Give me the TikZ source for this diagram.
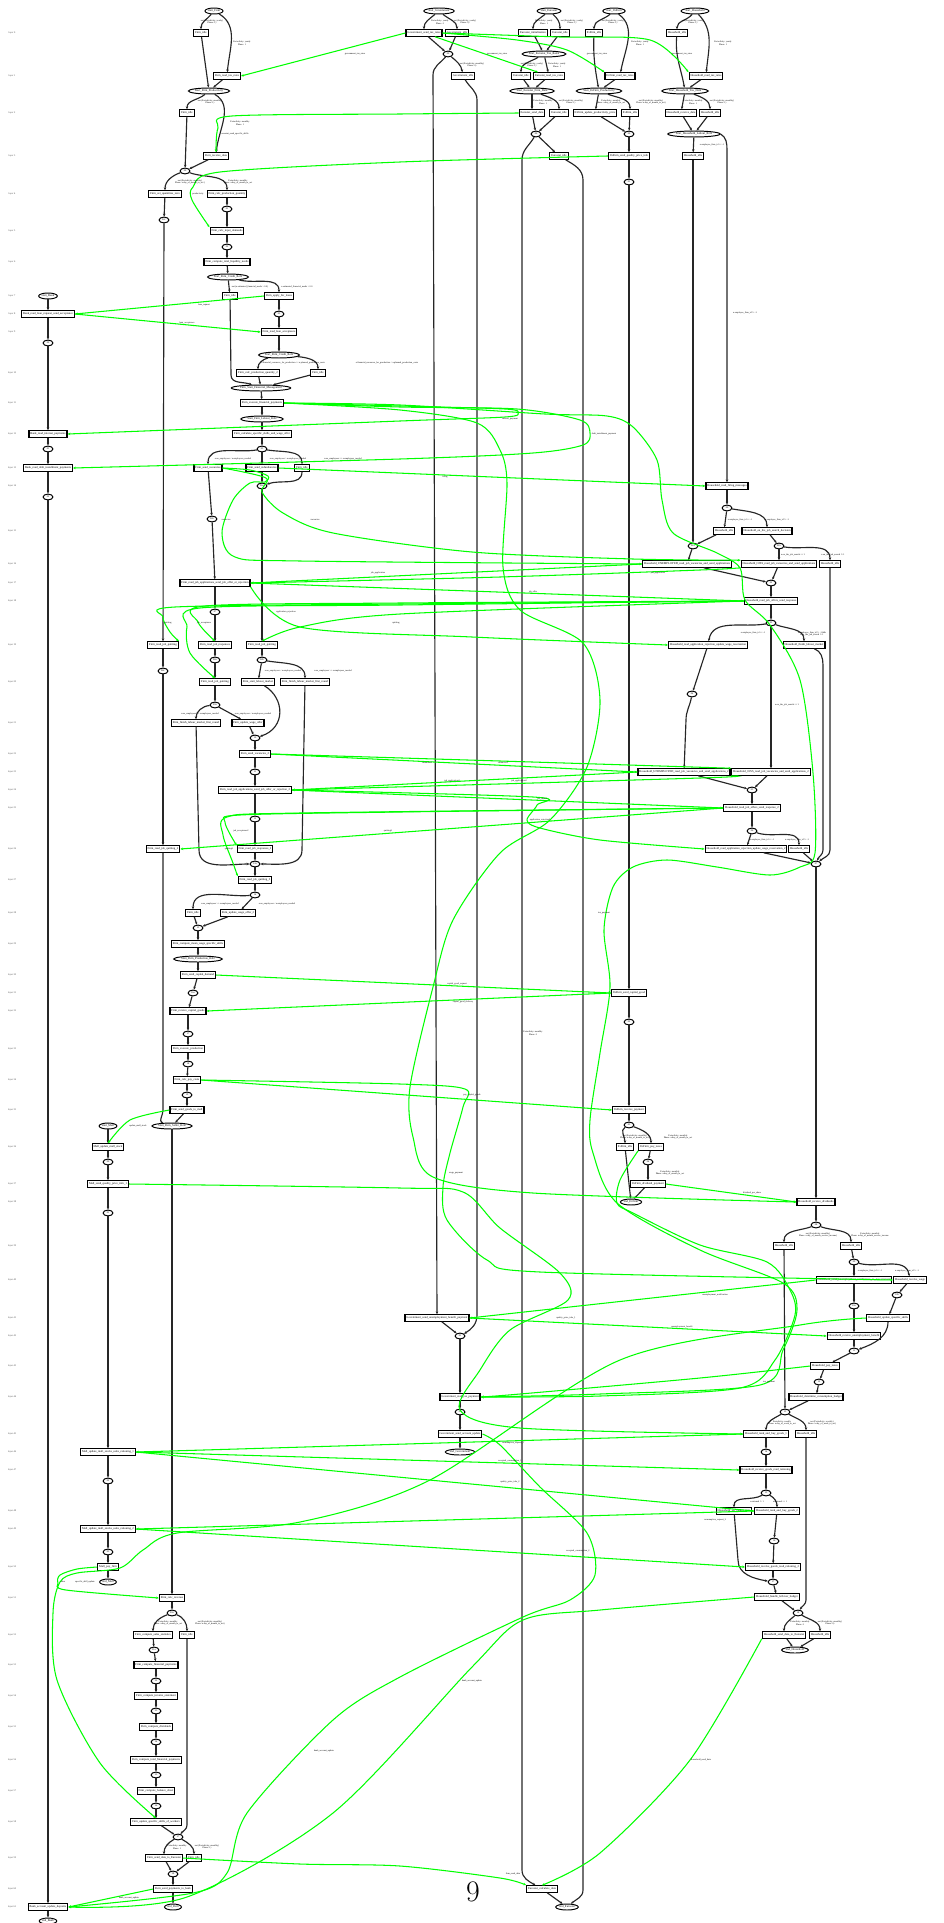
\documentclass[tikz,border=0pt]{standalone}
\usepackage{fontspec}
\usetikzlibrary{shapes.geometric,arrows.meta}
\newfontfamily\gvfont{Liberation Serif}
\definecolor{msggreen}{HTML}{00FF00}

\tikzset{
  fn/.style={draw, rectangle, line width=0.7pt, inner xsep=0.8pt, inner ysep=0.3pt, minimum height=3.6pt, font=\gvfont\fontsize{1.65}{2}\selectfont},
  st/.style={draw, ellipse, line width=0.55pt, inner xsep=0.2pt, inner ysep=0.1pt, minimum height=3.4pt, font=\gvfont\fontsize{1.65}{2}\selectfont},
  sm/.style={draw, ellipse, line width=0.55pt, inner sep=0pt, minimum width=5.6pt, minimum height=3.3pt, font=\gvfont\fontsize{1.4}{1.6}\selectfont},
  tr/.style={draw=black!85, line width=0.65pt, -{Stealth[length=1.6pt,width=1.4pt]}},
  ms/.style={draw=msggreen, line width=0.6pt, -{Stealth[length=1.6pt,width=1.4pt]}},
  el/.style={font=\gvfont\fontsize{1.3}{1.5}\selectfont, align=center, inner sep=0pt},
  lyr/.style={font=\gvfont\fontsize{1.4}{1.6}\selectfont, text=black!70, inner sep=0pt}
}

\begin{document}
\catcode`\_=12
\begin{tikzpicture}[x=0.02cm, y=-0.02cm]
\useasboundingbox (0,0) rectangle (943,1923);

% layers
\foreach \yy [count=\i from 0] in {33,76,113,156,194,231,262,296,314,332,373,403,434,468,486,531,564,583,601,645,682,723,754,772,790,808,849,880,913,944,975,993,1011,1049,1080,1110,1147,1184,1202,1246,1280,1318,1336,1366,1397,1434,1452,1470,1511,1529,1567,1598,1635,1665,1696,1727,1760,1791,1822,1858,1889,1907}
  \node[lyr] (L\i) at (12,\yy) {layer \i};

% ---------- Firm ----------
\node[st] (fS) at (214,11) {start_Firm};
\node[fn] (fI0) at (201,33) {Firm_idle};
\node[fn] (fTax) at (227,76) {Firm_read_tax_rates};
\node[st] (fP) at (209,91) {Start_Firm_Productivity};
\node[fn] (fI1) at (187,113) {Firm_idle};
\node[fn] (fData) at (216,156) {Firm_receive_data};
\node[sm] (f00) at (185,171) {00};
\node[fn] (fZero) at (165,194) {Firm_set_quantities_zero};
\node[fn] (fProd) at (227,194) {Firm_calc_production_quantity};
\node[sm] (f02c) at (164,220) {02c};
\node[sm] (f01) at (227,209) {01};
\node[fn] (fInp) at (227,231) {Firm_calc_input_demands};
\node[sm] (f02) at (227,247) {02};
\node[fn] (fLiq) at (227,262) {Firm_compute_total_liquidity_needs};
\node[st] (fCr) at (228,277) {Start_Firm_Credit_Role};
\node[fn] (fI2) at (230,296) {Firm_idle};
\node[fn] (fLoan) at (279,296) {Firm_apply_for_loans};
\node[sm] (f03) at (279,314) {03};
\node[fn] (fAcc) at (279,332) {Firm_read_loan_acceptance};
\node[st] (fCr2) at (279,355) {Start_Firm_Credit_Role};
\node[fn] (fProd2) at (258,373) {Firm_calc_production_quantity_2};
\node[fn] (fI3) at (318,373) {Firm_idle};
\node[st] (fFin) at (261,388) {Firm_Start_Financial_Management};
\node[fn] (fPay) at (262,403) {Firm_execute_financial_payments};
\node[st] (fLab) at (262,419) {Start_Firm_Labour_Role};
\node[fn] (fWage) at (262,434) {Firm_calculate_specific_skills_and_wage_offer};
\node[sm] (f05) at (262,449) {05};
\node[fn] (fVac) at (208,468) {Firm_send_vacancies};
\node[fn] (fRed) at (262,468) {Firm_send_redundancies};
\node[fn] (fI4) at (302,468) {Firm_idle};
\node[sm] (f06) at (262,486) {06a};
\node[sm] (f06b) at (212,519) {06b};
\node[fn] (fApp) at (215,583) {Firm_read_job_applications_send_job_offer_or_rejection};
\node[sm] (f07) at (215,612) {07};
\node[fn] (fQuitA) at (163,645) {Firm_read_job_quitting};
\node[fn] (fResp) at (215,645) {Firm_read_job_responses};
\node[fn] (fQuitB) at (262,645) {Firm_read_job_quitting};
\node[sm] (f08c) at (163,671) {08c};
\node[sm] (f08a) at (215,660) {08a};
\node[sm] (f08b) at (262,660) {08b};
\node[fn] (fQuitC) at (215,682) {Firm_read_job_quitting};
\node[fn] (fStartLM) at (258,682) {Firm_start_labour_market};
\node[fn] (fFinA) at (305,682) {Firm_finish_labour_market_first_round};
\node[sm] (f09) at (215,705) {09a};
\node[fn] (fFinB) at (196,723) {Firm_finish_labour_market_first_round};
\node[fn] (fUpd) at (248,723) {Firm_update_wage_offer};
\node[sm] (f10) at (255,738) {10};
\node[fn] (fVac2) at (255,754) {Firm_send_vacancies_2};
\node[sm] (f11) at (255,772) {11};
\node[fn] (fApp2) at (255,790) {Firm_read_job_applications_send_job_offer_or_rejection_2};
\node[sm] (f12) at (255,819) {12};
\node[fn] (fQuit2) at (163,849) {Firm_read_job_quitting_2};
\node[fn] (fResp2) at (255,849) {Firm_read_job_responses_2};
\node[sm] (f13) at (255,864) {13a};
\node[fn] (fQuit3) at (255,880) {Firm_read_job_quitting_3};
\node[sm] (f14) at (255,895) {14};
\node[fn] (fI5) at (193,913) {Firm_idle};
\node[fn] (fUpd2) at (238,913) {Firm_update_wage_offer_2};
\node[sm] (f15) at (198,928) {15};
\node[fn] (fMean) at (198,944) {Firm_compute_mean_wage_specific_skills};
\node[st] (fPr) at (198,959) {Start_Firm_Production_Role};
\node[fn] (fCap) at (198,975) {Firm_send_capital_demand};
\node[sm] (f16) at (193,993) {16a};
\node[fn] (fRecCap) at (188,1011) {Firm_receive_capital_goods};
\node[sm] (f17) at (188,1034) {17};
\node[fn] (fExe) at (188,1049) {Firm_execute_production};
\node[sm] (f18) at (188,1064) {18};
\node[fn] (fCost) at (187,1080) {Firm_calc_pay_costs};
\node[sm] (f19) at (187,1095) {19};
\node[fn] (fMall) at (187,1110) {Firm_send_goods_to_mall};
\node[st] (fSel) at (172,1126) {Start_Firm_Seller_Role};
\node[fn] (fRev) at (172,1598) {Firm_calc_revenue};
\node[sm] (f20) at (172,1613) {20a};
\node[fn] (fSal) at (153,1635) {Firm_compute_sales_statistics};
\node[fn] (fI6) at (187,1635) {Firm_idle};
\node[sm] (f21) at (154,1650) {21a};
\node[fn] (fFP) at (156,1665) {Firm_compute_financial_payments};
\node[sm] (f22) at (156,1681) {22};
\node[fn] (fInc) at (156,1696) {Firm_compute_income_statement};
\node[sm] (f23) at (156,1711) {23};
\node[fn] (fDiv) at (156,1727) {Firm_compute_dividends};
\node[sm] (f24) at (156,1742) {24};
\node[fn] (fTot) at (156,1760) {Firm_compute_total_financial_payments};
\node[sm] (f25) at (156,1775) {25};
\node[fn] (fBal) at (156,1791) {Firm_compute_balance_sheet};
\node[sm] (f26) at (156,1806) {26};
\node[fn] (fSkill) at (156,1822) {Firm_update_specific_skills_of_workers};
\node[sm] (f27) at (178,1837) {27};
\node[fn] (fEuro) at (164,1858) {Firm_send_data_to_Eurostat};
\node[fn] (fI7) at (194,1858) {Firm_idle};
\node[sm] (f28) at (173,1874) {28};
\node[fn] (fBank) at (173,1889) {Firm_send_payments_to_bank};
\node[st] (fE) at (173,1907) {end_Firm};

% ---------- Bank ----------
\node[st] (bS) at (48,296) {start_Bank};
\node[fn] (bReq) at (48,314) {Bank_read_loan_request_send_acceptance};
\node[sm] (b00) at (48,343) {00};
\node[fn] (bInt) at (48,434) {Bank_read_interest_payments};
\node[sm] (b01) at (48,449) {01};
\node[fn] (bDebt) at (48,468) {Bank_read_debt_installment_payments};
\node[sm] (b02) at (48,497) {02};
\node[fn] (bUpd) at (48,1907) {Bank_account_update_deposits};
\node[st] (bE) at (48,1921) {end_Bank};

% ---------- Mall ----------
\node[st] (mS) at (108,1126) {start_Mall};
\node[fn] (mStock) at (108,1147) {Mall_update_mall_stock};
\node[sm] (m00) at (108,1162) {00};
\node[fn] (mInfo) at (108,1184) {Mall_send_quality_price_info_1};
\node[sm] (m01) at (108,1213) {01};
\node[fn] (mRat1) at (108,1452) {Mall_update_mall_stocks_sales_rationing_1};
\node[sm] (m02) at (108,1481) {02};
\node[fn] (mRat2) at (108,1529) {Mall_update_mall_stocks_sales_rationing_2};
\node[sm] (m03) at (108,1552) {03};
\node[fn] (mPay) at (108,1567) {Mall_pay_firm};
\node[st] (mE) at (108,1582) {end_Mall};

% ---------- Government ----------
\node[st] (gS) at (439,11) {start_Government};
\node[fn] (gTax) at (424,33) {Government_send_tax_rates};
\node[fn] (gI0) at (457,33) {Government_idle};
\node[sm] (g00) at (448,54) {00};
\node[fn] (gI1) at (463,76) {Government_idle};
\node[fn] (gBen) at (437,1318) {Government_send_unemployment_benefit_payment};
\node[sm] (g01) at (460,1336) {01};
\node[fn] (gRead) at (460,1397) {Government_read_tax_payment};
\node[sm] (g02) at (460,1412) {02};
\node[fn] (gAcc) at (460,1434) {Government_send_account_update};
\node[st] (gE) at (460,1452) {end_Government};

% ---------- Eurostat ----------
\node[st] (eS) at (549,11) {start_Eurostat};
\node[fn] (eIni) at (533,33) {Eurostat_initialization};
\node[fn] (eI0) at (560,33) {Eurostat_idle};
\node[st] (eTx) at (544,54) {Start_Eurostat_Tax_Rates};
\node[fn] (eI1) at (521,76) {Eurostat_idle};
\node[fn] (eTax) at (549,76) {Eurostat_read_tax_rates};
\node[st] (eDt) at (532,91) {Start_Eurostat_Firm_Data};
\node[fn] (eSend) at (532,113) {Eurostat_send_data};
\node[fn] (eI2) at (559,113) {Eurostat_idle};
\node[sm] (e00) at (536,134) {00};
\node[fn] (eI3) at (559,156) {Eurostat_idle};
\node[fn] (eCalc) at (542,1889) {Eurostat_calculate_data};
\node[st] (eE) at (567,1907) {end_Eurostat};

% ---------- IGFirm ----------
\node[st] (iS) at (614,11) {start_IGFirm};
\node[fn] (iI0) at (594,33) {IGFirm_idle};
\node[fn] (iTax) at (620,76) {IGFirm_read_tax_rates};
\node[st] (iPr) at (599,91) {Start_IGFirm_Productivity};
\node[fn] (iUpd) at (595,113) {IGFirm_update_productivity_price};
\node[fn] (iI1) at (630,113) {IGFirm_idle};
\node[sm] (i00) at (629,134) {00};
\node[fn] (iInfo) at (629,156) {IGFirm_send_quality_price_info};
\node[sm] (i01) at (629,182) {01};
\node[fn] (iCap) at (629,993) {IGFirm_send_capital_good};
\node[sm] (i02) at (629,1022) {02};
\node[fn] (iRec) at (629,1110) {IGFirm_receive_payment};
\node[sm] (i03) at (629,1125) {03};
\node[fn] (iI2) at (625,1147) {IGFirm_idle};
\node[fn] (iTx) at (651,1147) {IGFirm_pay_taxes};
\node[sm] (i04) at (648,1162) {04};
\node[fn] (iDiv) at (648,1184) {IGFirm_dividend_payment};
\node[st] (iE) at (631,1202) {end_IGFirm};

% ---------- Household ----------
\node[st] (hS) at (695,11) {start_Household};
\node[fn] (hI0) at (677,33) {Household_idle};
\node[fn] (hTax) at (706,76) {Household_read_tax_rates};
\node[st] (hTx) at (685,91) {Start_Household_Tax_Data};
\node[fn] (hData) at (681,113) {Household_receive_data};
\node[fn] (hI1) at (710,113) {Household_idle};
\node[st] (hLab) at (694,134) {Start_Household_Labour_Role};
\node[fn] (hI2) at (693,156) {Household_idle};
\node[fn] (hFire) at (727,486) {Household_read_firing_messages};
\node[sm] (h00) at (727,508) {00};
\node[fn] (hI3) at (724,531) {Household_idle};
\node[fn] (hOJ) at (767,531) {Household_on_the_job_search_decision};
\node[sm] (h01a) at (693,546) {01a};
\node[sm] (h01b) at (779,546) {01b};
\node[fn] (hUnA) at (687,564) {Household_UNEMPLOYED_read_job_vacancies_and_send_applications};
\node[fn] (hOjA) at (779,564) {Household_OJSS_read_job_vacancies_and_send_applications};
\node[fn] (hI4) at (830,564) {Household_idle};
\node[sm] (h02) at (771,583) {02};
\node[fn] (hOff) at (771,601) {Household_read_job_offers_send_response};
\node[sm] (h03) at (771,623) {03};
\node[fn] (hRej) at (708,645) {Household_read_application_rejection_update_wage_reservation};
\node[fn] (hFin) at (804,645) {Household_finish_labour_market};
\node[sm] (h04) at (692,694) {04};
\node[fn] (hUnB) at (684,772) {Household_UNEMPLOYED_read_job_vacancies_and_send_applications_2};
\node[fn] (hOjB) at (771,772) {Household_OJSS_read_job_vacancies_and_send_applications_2};
\node[sm] (h05) at (752,790) {05};
\node[fn] (hOff2) at (752,808) {Household_read_job_offers_send_response_2};
\node[sm] (h06) at (752,831) {06};
\node[fn] (hRej2) at (746,849) {Household_read_application_rejection_update_wage_reservation_2};
\node[fn] (hI5) at (799,849) {Household_idle};
\node[sm] (h07) at (816,864) {07};
\node[fn] (hDiv) at (816,1202) {Household_receive_dividends};
\node[sm] (h08) at (816,1225) {08};
\node[fn] (hI6) at (784,1246) {Household_idle};
\node[fn] (hI7) at (851,1246) {Household_idle};
\node[sm] (h09) at (854,1262) {09};
\node[fn] (hNot) at (854,1280) {Household_send_unemployment_notification_to_Government};
\node[fn] (hWage) at (910,1280) {Household_receive_wage};
\node[sm] (h10a) at (854,1306) {10a};
\node[sm] (h10b) at (897,1295) {10b};
\node[fn] (hSkill) at (888,1318) {Household_update_specific_skills};
\node[fn] (hBen) at (854,1336) {Household_receive_unemployment_benefit};
\node[sm] (h11) at (854,1351) {11};
\node[fn] (hPay) at (825,1366) {Household_pay_taxes};
\node[sm] (h12) at (819,1382) {12};
\node[fn] (hBud) at (816,1397) {Household_determine_consumption_budget};
\node[sm] (h13) at (785,1412) {13};
\node[fn] (hBuy1) at (766,1434) {Household_rank_and_buy_goods_1};
\node[fn] (hI8) at (806,1434) {Household_idle};
\node[sm] (h14) at (766,1452) {14};
\node[fn] (hRec1) at (766,1470) {Household_receive_goods_read_rationing};
\node[sm] (h15) at (766,1493) {15};
\node[fn] (hZero) at (734,1511) {Household_set_values_zero};
\node[fn] (hBuy2) at (777,1511) {Household_rank_and_buy_goods_2};
\node[sm] (h16) at (774,1541) {16};
\node[fn] (hRec2) at (773,1567) {Household_receive_goods_read_rationing_2};
\node[sm] (h17) at (773,1582) {17};
\node[fn] (hLeft) at (777,1597) {Household_handle_leftover_budget};
\node[sm] (h18) at (798,1613) {18};
\node[fn] (hEuro) at (784,1635) {Household_send_data_to_Eurostat};
\node[fn] (hI9) at (820,1635) {Household_idle};
\node[st] (hE) at (795,1650) {end_Household};

\node[inner sep=0pt] (pg) at (473,1892) {\fontsize{17}{17}\selectfont 9};

% ---------- transitions ----------
\draw[tr] (fS) to[out=-130,in=90] (fI0);
\draw[tr] (fS) to[out=-30,in=85] (fTax);
\draw[tr] (fI0) -- (fP);
\draw[tr] (fTax) -- (fP);
\draw[tr] (fP) to[out=-140,in=90] (fI1);
\draw[tr] (fP) to[out=-30,in=85] (fData);
\draw[tr] (fI1) -- (f00);
\draw[tr] (fData) -- (f00);
\draw[tr] (f00) to[out=-160,in=90] (fZero);
\draw[tr] (f00) to[out=-20,in=90] (fProd);
\draw[tr] (fZero) -- (f02c);
\draw[tr] (f02c) -- (fQuitA);
\draw[tr] (fProd) -- (f01);
\draw[tr] (f01) -- (fInp);
\draw[tr] (fInp) -- (f02);
\draw[tr] (f02) -- (fLiq);
\draw[tr] (fLiq) -- (fCr);
\draw[tr] (fCr) -- (fI2);
\draw[tr] (fCr) to[out=-15,in=90] (fLoan);
\draw[tr] (fLoan) -- (f03);
\draw[tr] (f03) -- (fAcc);
\draw[tr] (fAcc) -- (fCr2);
\draw[tr] (fCr2) to[out=-165,in=90] (fProd2);
\draw[tr] (fCr2) to[out=-5,in=90] (fI3);
\draw[tr] (fI2) -- (231,375) to[out=-90,in=160] (fFin);
\draw[tr] (fProd2) -- (fFin);
\draw[tr] (fI3) -- (fFin);
\draw[tr] (fFin) -- (fPay);
\draw[tr] (fPay) -- (fLab);
\draw[tr] (fLab) -- (fWage);
\draw[tr] (fWage) -- (f05);
\draw[tr] (f05) to[out=-170,in=90] (fVac);
\draw[tr] (f05) -- (fRed);
\draw[tr] (f05) to[out=-10,in=90] (fI4);
\draw[tr] (fVac) -- (f06b);
\draw[tr] (f06b) -- (fApp);
\draw[tr] (fRed) -- (f06);
\draw[tr] (fI4) to[out=-90,in=20] (f06);
\draw[tr] (f06) -- (fQuitB);
\draw[tr] (fApp) -- (f07);
\draw[tr] (f07) -- (fResp);
\draw[tr] (fQuitA) -- (f08c);
\draw[tr] (fResp) -- (f08a);
\draw[tr] (fQuitB) -- (f08b);
\draw[tr] (f08a) -- (fQuitC);
\draw[tr] (f08b) -- (fStartLM);
\draw[tr] (f08b) to[out=-10,in=90] (fFinA);
\draw[tr] (f08c) -- (fQuit2);
\draw[tr] (fQuitC) -- (f09);
\draw[tr] (f09) to[out=-175,in=90] (fFinB);
\draw[tr] (f09) -- (fUpd);
\draw[tr] (fUpd) -- (f10);
\draw[tr] (fStartLM) .. controls (285,698) and (286,728) .. (f10);
\draw[tr] (f10) -- (fVac2);
\draw[tr] (fVac2) -- (f11);
\draw[tr] (f11) -- (fApp2);
\draw[tr] (fApp2) -- (f12);
\draw[tr] (f12) -- (fResp2);
\draw[tr] (fResp2) -- (f13);
\draw[tr] (fFinB) -- (199,850) to[out=-90,in=180] (f13);
\draw[tr] (fFinA) -- (302,850) to[out=-90,in=0] (f13);
\draw[tr] (f13) -- (fQuit3);
\draw[tr] (fQuit3) -- (f14);
\draw[tr] (f14) to[out=-175,in=90] (fI5);
\draw[tr] (f14) -- (fUpd2);
\draw[tr] (fI5) -- (f15);
\draw[tr] (fUpd2) -- (f15);
\draw[tr] (f15) -- (fMean);
\draw[tr] (fMean) -- (fPr);
\draw[tr] (fPr) -- (fCap);
\draw[tr] (fCap) -- (f16);
\draw[tr] (f16) -- (fRecCap);
\draw[tr] (fRecCap) -- (f17);
\draw[tr] (f17) -- (fExe);
\draw[tr] (fExe) -- (f18);
\draw[tr] (f18) -- (fCost);
\draw[tr] (fCost) -- (f19);
\draw[tr] (f19) -- (fMall);
\draw[tr] (fMall) -- (fSel);
\draw[tr] (fQuit2) -- (163,1110) to[out=-90,in=160] (fSel);
\draw[tr] (fSel) -- (fRev);
\draw[tr] (fRev) -- (f20);
\draw[tr] (f20) to[out=-160,in=90] (fSal);
\draw[tr] (f20) to[out=-20,in=90] (fI6);
\draw[tr] (fSal) -- (f21);
\draw[tr] (f21) -- (fFP);
\draw[tr] (fFP) -- (f22);
\draw[tr] (f22) -- (fInc);
\draw[tr] (fInc) -- (f23);
\draw[tr] (f23) -- (fDiv);
\draw[tr] (fDiv) -- (f24);
\draw[tr] (f24) -- (fTot);
\draw[tr] (fTot) -- (f25);
\draw[tr] (f25) -- (fBal);
\draw[tr] (fBal) -- (f26);
\draw[tr] (f26) -- (fSkill);
\draw[tr] (fSkill) -- (f27);
\draw[tr] (fI6) -- (187,1825) to[out=-90,in=50] (f27);
\draw[tr] (f27) to[out=-150,in=90] (fEuro);
\draw[tr] (f27) to[out=-30,in=90] (fI7);
\draw[tr] (fEuro) -- (f28);
\draw[tr] (fI7) -- (f28);
\draw[tr] (f28) -- (fBank);
\draw[tr] (fBank) -- (fE);

\draw[tr] (bS) -- (bReq);
\draw[tr] (bReq) -- (b00);
\draw[tr] (b00) -- (bInt);
\draw[tr] (bInt) -- (b01);
\draw[tr] (b01) -- (bDebt);
\draw[tr] (bDebt) -- (b02);
\draw[tr] (b02) -- (bUpd);
\draw[tr] (bUpd) -- (bE);

\draw[tr] (mS) -- (mStock);
\draw[tr] (mStock) -- (m00);
\draw[tr] (m00) -- (mInfo);
\draw[tr] (mInfo) -- (m01);
\draw[tr] (m01) -- (mRat1);
\draw[tr] (mRat1) -- (m02);
\draw[tr] (m02) -- (mRat2);
\draw[tr] (mRat2) -- (m03);
\draw[tr] (m03) -- (mPay);
\draw[tr] (mPay) -- (mE);

\draw[tr] (gS) to[out=-140,in=90] (gTax);
\draw[tr] (gS) to[out=-40,in=90] (gI0);
\draw[tr] (gTax) -- (g00);
\draw[tr] (gI0) -- (g00);
\draw[tr] (g00) to[out=-40,in=100] (gI1);
\draw[tr] (g00) to[out=-130,in=90] (433,75) -- (gBen);
\draw[tr] (gI1) to[out=-60,in=90] (477,100) -- (477,1315) to[out=-90,in=30] (g01);
\draw[tr] (gBen) -- (g01);
\draw[tr] (g01) -- (gRead);
\draw[tr] (gRead) -- (g02);
\draw[tr] (g02) -- (gAcc);
\draw[tr] (gAcc) -- (gE);

\draw[tr] (eS) to[out=-140,in=90] (eIni);
\draw[tr] (eS) to[out=-40,in=90] (eI0);
\draw[tr] (eIni) -- (eTx);
\draw[tr] (eI0) -- (eTx);
\draw[tr] (eTx) to[out=-150,in=90] (eI1);
\draw[tr] (eTx) -- (eTax);
\draw[tr] (eI1) -- (eDt);
\draw[tr] (eTax) -- (eDt);
\draw[tr] (eDt) -- (eSend);
\draw[tr] (eDt) to[out=-20,in=90] (eI2);
\draw[tr] (eSend) -- (e00);
\draw[tr] (eI2) -- (e00);
\draw[tr] (e00) -- (eI3);
\draw[tr] (e00) to[out=-120,in=90] (522,160) -- (522,1870) to[out=-90,in=150] (eCalc);
\draw[tr] (eI3) to[out=-30,in=90] (583,180) -- (583,1890) to[out=-90,in=40] (eE);
\draw[tr] (eCalc) -- (eE);

\draw[tr] (iS) to[out=-140,in=90] (iI0);
\draw[tr] (iS) to[out=-35,in=80] (iTax);
\draw[tr] (iI0) to[out=-92,in=100] (iPr);
\draw[tr] (iTax) -- (iPr);
\draw[tr] (iPr) -- (iUpd);
\draw[tr] (iPr) to[out=-20,in=90] (iI1);
\draw[tr] (iUpd) -- (i00);
\draw[tr] (iI1) -- (i00);
\draw[tr] (i00) -- (iInfo);
\draw[tr] (iInfo) -- (i01);
\draw[tr] (i01) -- (iCap);
\draw[tr] (iCap) -- (i02);
\draw[tr] (i02) -- (iRec);
\draw[tr] (iRec) -- (i03);
\draw[tr] (i03) to[out=-150,in=90] (iI2);
\draw[tr] (i03) to[out=-20,in=90] (iTx);
\draw[tr] (iTx) -- (i04);
\draw[tr] (i04) -- (iDiv);
\draw[tr] (iDiv) -- (iE);
\draw[tr] (iI2) -- (iE);

\draw[tr] (hS) to[out=-130,in=90] (hI0);
\draw[tr] (hS) to[out=-45,in=85] (hTax);
\draw[tr] (hI0) to[out=-95,in=100] (hTx);
\draw[tr] (hTax) -- (hTx);
\draw[tr] (hTx) -- (hData);
\draw[tr] (hTx) to[out=-20,in=90] (hI1);
\draw[tr] (hData) -- (hLab);
\draw[tr] (hI1) -- (hLab);
\draw[tr] (hLab) -- (hI2);
\draw[tr] (hLab.east) to[out=-30,in=90] (727,150) -- (hFire);
\draw[tr] (hI2) -- (h01a);
\draw[tr] (hFire) -- (h00);
\draw[tr] (h00) -- (hI3);
\draw[tr] (h00) to[out=-10,in=90] (hOJ);
\draw[tr] (hI3) -- (h01a);
\draw[tr] (h01a) -- (hUnA);
\draw[tr] (hOJ) -- (h01b);
\draw[tr] (h01b) -- (hOjA);
\draw[tr] (h01b) to[out=-10,in=90] (hI4);
\draw[tr] (hUnA) -- (h02);
\draw[tr] (hOjA) -- (h02);
\draw[tr] (h02) -- (hOff);
\draw[tr] (hOff) -- (h03);
\draw[tr] (h03) to[out=-170,in=80] (hRej);
\draw[tr] (h03) to[out=-20,in=90] (hFin);
\draw[tr] (h03) -- (hOjB);
\draw[tr] (hRej) -- (h04);
\draw[tr] (h04) to[out=-100,in=90] (686,720) -- (hUnB);
\draw[tr] (hUnB) -- (h05);
\draw[tr] (hOjB) -- (h05);
\draw[tr] (h05) -- (hOff2);
\draw[tr] (hOff2) -- (h06);
\draw[tr] (h06) -- (hRej2);
\draw[tr] (h06) to[out=-20,in=90] (hI5);
\draw[tr] (hRej2) -- (h07);
\draw[tr] (hI5) -- (h07);
\draw[tr] (hFin) to[out=-20,in=90] (823,665) -- (823,850) to[out=-90,in=70] (h07);
\draw[tr] (hI4) -- (830,850) to[out=-90,in=40] (h07);
\draw[tr] (h07) -- (hDiv);
\draw[tr] (hDiv) -- (h08);
\draw[tr] (h08) to[out=-160,in=90] (hI6);
\draw[tr] (h08) to[out=-20,in=90] (hI7);
\draw[tr] (hI7) -- (h09);
\draw[tr] (h09) -- (hNot);
\draw[tr] (h09) to[out=-15,in=100] (hWage);
\draw[tr] (hNot) -- (h10a);
\draw[tr] (h10a) -- (hBen);
\draw[tr] (hBen) -- (h11);
\draw[tr] (hWage) -- (h10b);
\draw[tr] (h10b) -- (hSkill);
\draw[tr] (hSkill) to[out=-90,in=20] (h11);
\draw[tr] (h11) -- (hPay);
\draw[tr] (hPay) -- (h12);
\draw[tr] (h12) -- (hBud);
\draw[tr] (hBud) -- (h13);
\draw[tr] (hI6) -- (h13);
\draw[tr] (h13) to[out=-150,in=90] (hBuy1);
\draw[tr] (h13) to[out=-30,in=90] (hI8);
\draw[tr] (hBuy1) -- (h14);
\draw[tr] (h14) -- (hRec1);
\draw[tr] (hRec1) -- (h15);
\draw[tr] (h15) to[out=-150,in=90] (hZero);
\draw[tr] (h15) to[out=-30,in=90] (hBuy2);
\draw[tr] (hBuy2) -- (h16);
\draw[tr] (h16) -- (hRec2);
\draw[tr] (hRec2) -- (h17);
\draw[tr] (hZero) -- (738,1560) to[out=-90,in=170] (h17);
\draw[tr] (h17) -- (hLeft);
\draw[tr] (hLeft) -- (h18);
\draw[tr] (hI8) -- (806,1600) to[out=-90,in=60] (h18);
\draw[tr] (h18) to[out=-140,in=90] (hEuro);
\draw[tr] (h18) to[out=-30,in=90] (hI9);
\draw[tr] (hEuro) -- (hE);
\draw[tr] (hI9) -- (hE);

% ---------- messages ----------
\draw[ms] (gTax.west) -- (fTax.east);
\draw[ms] (gTax) -- (eTax);
\draw[ms] plot[smooth] coordinates {(gTax.east) (517,40) (567,50) (iTax.north west)};
\draw[ms] plot[smooth] coordinates {(gTax.east) (560,37) (650,40) (hTax.north west)};
\draw[ms] plot[smooth] coordinates {(eSend.west) (400,114) (232,116) (218,128) (fData.north)};
\draw[ms] plot[smooth] coordinates {(iInfo.west) (400,162) (220,172) (193,187) (192,200) (fInp.north west)};
\draw[ms] (fLoan.west) -- (bReq.east);
\draw[ms] (bReq.east) -- (fAcc.west);
\draw[ms] plot[smooth] coordinates {(fPay.east) (400,406) (505,409) (518,413) (505,417) (400,421) (bInt.east)};
\draw[ms] plot[smooth] coordinates {(fPay.east) (400,407) (517,409) (580,420) (590,433) (583,445) (533,453) (400,459) (bDebt.east)};
\draw[ms] plot[smooth] coordinates {(fPay.east) (400,410) (477,423) (500,450) (507,483) (503,567) (520,610) (583,643) (600,700) (587,767) (550,820) (500,853) (453,920) (433,987) (410,1087) (413,1137) (433,1177) (533,1193) (hDiv.west)};
\draw[ms] plot[smooth] coordinates {(fPay.east) (400,405) (545,414) (607,416) (633,427) (657,460) (662,500) (673,533) (717,553) (740,568) (745,600) (770,625) (800,680) (813,773) (815,853) (800,867) (770,875) (717,867) (667,860) (633,867) (613,887) (604,930) (610,987) (600,1053) (590,1120) (593,1153) (617,1203) (700,1250) (783,1283) (797,1310) (783,1350) (760,1385) (600,1394) (gRead.east)};
\draw[ms] plot[smooth] coordinates {(fVac.east) (250,470) (268,476) (265,482) (250,483) (233,500) (222,533) (235,557) (300,561) (hUnA.west)};
\draw[ms] plot[smooth] coordinates {(fVac.east) (266,478) (262,492) (283,513) (333,533) (472,552) (633,559) (hOjA.north west)};
\draw[ms] (fRed.east) -- (hFire.west);
\draw[ms] (hUnA.west) -- (fApp.east);
\draw[ms] plot[smooth] coordinates {(hOjA.south west) (700,570) (500,577) (fApp.east)};
\draw[ms] (fApp.east) -- (hOff.west);
\draw[ms] plot[smooth] coordinates {(fApp.south east) (300,627) (472,637) (hRej.west)};
\draw[ms] plot[smooth] coordinates {(hOff.west) (400,603) (205,606) (198,622) (fResp.north)};
\draw[ms] plot[smooth] coordinates {(hOff.west) (400,604) (175,607) (163,617) (170,632) (fQuitA.north east)};
\draw[ms] plot[smooth] coordinates {(hOff.west) (400,614) (300,627) (fQuitB.north)};
\draw[ms] plot[smooth] coordinates {(hOff.west) (400,605) (200,608) (187,627) (190,653) (fQuitC.north)};
\draw[ms] (fVac2.east) -- (hUnB.west);
\draw[ms] plot[smooth] coordinates {(fVac2.east) (500,761) (hOjB.north west)};
\draw[ms] (hUnB.west) -- (fApp2.east);
\draw[ms] plot[smooth] coordinates {(hOjB.south west) (700,778) (fApp2.east)};
\draw[ms] (fApp2.east) -- (hOff2.west);
\draw[ms] plot[smooth] coordinates {(fApp2.east) (533,797) (537,805) (527,820) (540,828) (600,840) (hRej2.west)};
\draw[ms] plot[smooth] coordinates {(hOff2.west) (400,812) (240,815) (225,822) (fResp2.north west)};
\draw[ms] (hOff2.west) -- (fQuit2.east);
\draw[ms] plot[smooth] coordinates {(hOff2.west) (300,813) (227,817) (223,835) (233,863) (fQuit3.north west)};
\draw[ms] (fCap.east) -- (iCap.west);
\draw[ms] (iCap.west) -- (fRecCap.east);
\draw[ms] (fCost.east) -- (iRec.west);
\draw[ms] plot[smooth] coordinates {(fCost.east) (400,1084) (465,1089) (463,1107) (450,1153) (443,1187) (447,1220) (487,1260) (540,1272) (hWage.west)};
\draw[ms] (iDiv.east) -- (hDiv.west);
\draw[ms] plot[smooth] coordinates {(iTx.south west) (620,1180) (617,1203) (633,1213) (700,1245) (767,1262) (790,1290) (795,1315) (775,1360) (740,1388) (600,1396) (gRead.east)};
\draw[ms] plot[smooth] coordinates {(fMall.west) (130,1120) (mStock.north)};
\draw[ms] plot[smooth] coordinates {(mInfo.east) (400,1188) (463,1192) (500,1228) (560,1273) (568,1300) (510,1330) (480,1370) (460,1410) (520,1428) (hBuy1.west)};
\draw[ms] (hBuy1.west) -- (mRat1.east);
\draw[ms] (mRat1.east) -- (hRec1.west);
\draw[ms] (mRat1.east) -- (hBuy2.west);
\draw[ms] (hBuy2.west) -- (mRat2.east);
\draw[ms] (mRat2.east) -- (hRec2.west);
\draw[ms] plot[smooth] coordinates {(mPay.west) (77,1569) (60,1575) (58,1583) (66,1590) (fRev.west)};
\draw[ms] (hNot.west) -- (gBen.east);
\draw[ms] (gBen.east) -- (hBen.west);
\draw[ms] plot[smooth] coordinates {(hPay.west) (700,1378) (520,1394) (gRead.east)};
\draw[ms] plot[smooth] coordinates {(hSkill.west) (800,1325) (620,1360) (430,1480) (300,1522) (177,1533) (143,1550) (120,1568) (77,1573) (60,1582) (53,1613) (57,1680) (100,1763) (fSkill.north)};
\draw[ms] plot[smooth] coordinates {(gAcc.east) (500,1445) (540,1487) (587,1533) (595,1575) (570,1600) (523,1617) (400,1677) (333,1720) (247,1813) (227,1873) (193,1893) (bUpd.east)};
\draw[ms] plot[smooth] coordinates {(hLeft.west) (600,1610) (523,1620) (472,1667) (333,1813) (187,1897) (bUpd.east)};
\draw[ms] (fBank.west) -- (bUpd.east);
\draw[ms] plot[smooth] coordinates {(fEuro.east) (300,1864) (400,1866) (500,1878) (eCalc.north west)};
\draw[ms] plot[smooth] coordinates {(hEuro.south west) (690,1760) (600,1853) (eCalc.north)};

% message labels
\node[el] (m1) at (355,54) {government_tax_rates};
\node[el] (m2) at (497,54) {government_tax_rates};
\node[el] (m3) at (597,54) {government_tax_rates};
\node[el] (m4) at (682,54) {government_tax_rates};
\node[el] (m5) at (235,134) {eurostat_send_specific_skills};
\node[el] (m6) at (198,194) {productivity};
\node[el] (m7) at (204,305) {loan_request};
\node[el] (m8) at (187,323) {loan_acceptance};
\node[el] (m9) at (510,419) {interest_payment};
\node[el] (m10) at (604,434) {debt_installment_payment};
\node[el] (m11) at (445,477) {firing};
\node[el] (m12) at (226,520) {vacancies};
\node[el] (m13) at (315,520) {vacancies};
\node[el] (m14) at (378,573) {job_application};
\node[el] (m15) at (658,573) {job_application};
\node[el] (m16) at (533,592) {job_offer};
\node[el] (m17) at (286,612) {application_rejection};
\node[el] (m18) at (168,623) {quitting};
\node[el] (m19) at (204,623) {job_acceptance};
\node[el] (m20) at (396,623) {quitting};
\node[el] (m21) at (427,763) {vacancies2};
\node[el] (m22) at (503,763) {vacancies2};
\node[el] (m23) at (452,781) {job_application2};
\node[el] (m24) at (519,781) {job_application2};
\node[el] (m25) at (542,799) {job_offer2};
\node[el] (m26) at (540,820) {application_rejection2};
\node[el] (m27) at (241,831) {job_acceptance2};
\node[el] (m28) at (388,831) {quitting2};
\node[el] (m29) at (229,849) {quitting2};
\node[el] (m30) at (604,913) {tax_payment};
\node[el] (m31) at (457,984) {capital_good_request};
\node[el] (m32) at (463,1002) {capital_good_delivery};
\node[el] (m33) at (472,1095) {pay_capital_goods};
\node[el] (m34) at (456,1173) {wage_payment};
\node[el] (m35) at (752,1193) {dividend_per_share};
\node[el] (m36) at (138,1126) {update_mall_stock};
\node[el] (m37) at (715,1295) {unemployment_notification};
\node[el] (m38) at (682,1327) {unemployment_benefit};
\node[el] (m39) at (769,1382) {tax_payment};
\node[el] (m40) at (566,1318) {quality_price_info_1};
\node[el] (m41) at (513,1443) {consumption_request_1};
\node[el] (m42) at (510,1461) {accepted_consumption_1};
\node[el] (m43) at (510,1482) {quality_price_info_2};
\node[el] (m44) at (715,1520) {consumption_request_2};
\node[el] (m45) at (578,1551) {accepted_consumption_2};
\node[el] (m46) at (63,1582) {sales};
\node[el] (m47) at (85,1582) {specific_skill_update};
\node[el] (m48) at (472,1681) {bank_account_update};
\node[el] (m49) at (324,1751) {bank_account_update};
\node[el] (m50) at (129,1898) {bank_account_update};
\node[el] (m51) at (701,1760) {household_send_data};
\node[el] (m52) at (513,1874) {firm_send_data};

% condition labels
\node[el] (c1) at (212,22) {not (Periodicity: yearly)\\Phase: 1)};
\node[el] (c2) at (242,43) {Periodicity: yearly\\Phase: 1};
\node[el] (c3) at (210,102) {not (Periodicity: monthly)\\Phase: 1)};
\node[el] (c4) at (240,123) {Periodicity: monthly\\Phase: 1};
\node[el] (c5) at (190,182) {not (Periodicity: monthly)\\Phase: a.day_of_month_to_act )};
\node[el] (c6) at (238,182) {Periodicity: monthly\\Phase: a.day_of_month_to_act};
\node[el] (c7) at (250,287) {not (a.estimated_financial_needs > 0.0)};
\node[el] (c8) at (297,287) {a.estimated_financial_needs > 0.0};
\node[el] (c9) at (293,363) {a.financial_resources_for_production >= a.planned_production_costs};
\node[el] (c10) at (387,363) {a.financial_resources_for_production < a.planned_production_costs};
\node[el] (c11) at (233,459) {a.no_employees < a.employees_needed};
\node[el] (c12) at (288,459) {a.no_employees > a.employees_needed};
\node[el] (c13) at (343,459) {a.no_employees == a.employees_needed};
\node[el] (c14) at (283,671) {a.no_employees < a.employees_needed};
\node[el] (c15) at (333,671) {a.no_employees >= a.employees_needed};
\node[el] (c16) at (200,714) {a.no_employees >= a.employees_needed};
\node[el] (c17) at (253,714) {a.no_employees < a.employees_needed};
\node[el] (c18) at (220,904) {a.no_employees >= a.employees_needed};
\node[el] (c19) at (277,904) {a.no_employees < a.employees_needed};
\node[el] (c20) at (440,22) {Periodicity: yearly\\Phase: 0};
\node[el] (c21) at (465,22) {not (Periodicity: yearly)\\Phase: 0)};
\node[el] (c22) at (472,65) {not (Periodicity: monthly)\\Phase: 0)};
\node[el] (c23) at (544,22) {Periodicity: yearly\\Phase: 1};
\node[el] (c24) at (572,22) {not (Periodicity: yearly)\\Phase: 1)};
\node[el] (c25) at (532,65) {not (Periodicity: yearly)\\Phase: 1)};
\node[el] (c26) at (557,65) {Periodicity: yearly\\Phase: 1};
\node[el] (c27) at (543,102) {Periodicity: monthly\\Phase: 1};
\node[el] (c28) at (571,102) {not (Periodicity: monthly)\\Phase: 1)};
\node[el] (c29) at (613,22) {not (Periodicity: yearly)\\Phase: 1)};
\node[el] (c30) at (640,43) {Periodicity: yearly\\Phase: 1};
\node[el] (c31) at (611,102) {Periodicity: monthly\\Phase: a.day_of_month_to_act};
\node[el] (c32) at (651,102) {not (Periodicity: monthly)\\Phase: a.day_of_month_to_act)};
\node[el] (c33) at (693,22) {not (Periodicity: yearly)\\Phase: 1)};
\node[el] (c34) at (723,43) {Periodicity: yearly\\Phase: 1};
\node[el] (c35) at (693,102) {Periodicity: monthly\\Phase: 1};
\node[el] (c36) at (722,102) {not (Periodicity: monthly)\\Phase: 1)};
\node[el] (c37) at (712,145) {a.employee_firm_id == -1};
\node[el] (c38) at (745,313) {a.employee_firm_id != -1};
\node[el] (c39) at (740,520) {a.employee_firm_id == -1};
\node[el] (c40) at (777,520) {a.employee_firm_id != -1};
\node[el] (c41) at (793,555) {a.on_the_job_search == 1};
\node[el] (c42) at (833,555) {a.on_the_job_search != 1};
\node[el] (c43) at (753,633) {a.employee_firm_id == -1};
\node[el] (c44) at (812,634) {a.employee_firm_id != -1 \&\&\\a.on_the_job_search != 1};
\node[el] (c45) at (787,705) {a.on_the_job_search == 1};
\node[el] (c46) at (762,840) {a.employee_firm_id == -1};
\node[el] (c47) at (797,840) {a.employee_firm_id != -1};
\node[el] (c48) at (533,1033) {Periodicity: monthly\\Phase: 0};
\node[el] (c49) at (635,1137) {not (Periodicity: monthly)\\Phase: a.day_of_month_to_act)};
\node[el] (c50) at (678,1137) {Periodicity: monthly\\Phase: a.day_of_month_to_act};
\node[el] (c51) at (670,1173) {Periodicity: monthly\\Phase: a.day_of_month_to_act};
\node[el] (c52) at (818,1235) {not (Periodicity: monthly)\\Phase: a.day_of_month_receive_income)};
\node[el] (c53) at (870,1235) {Periodicity: monthly\\Phase: a.day_of_month_receive_income};
\node[el] (c54) at (870,1271) {a.employee_firm_id == -1};
\node[el] (c55) at (907,1271) {a.employee_firm_id != -1};
\node[el] (c56) at (782,1423) {Periodicity: weekly\\Phase: a.day_of_week_to_act};
\node[el] (c57) at (822,1423) {not (Periodicity: weekly)\\Phase: a.day_of_week_to_act)};
\node[el] (c58) at (757,1502) {a.rationed != 1};
\node[el] (c59) at (780,1502) {a.rationed == 1};
\node[el] (c60) at (168,1623) {Periodicity: monthly\\Phase: a.day_of_month_to_act};
\node[el] (c61) at (210,1623) {not (Periodicity: monthly)\\Phase: a.day_of_month_to_act)};
\node[el] (c62) at (177,1847) {Periodicity: monthly\\Phase: 1};
\node[el] (c63) at (207,1847) {not (Periodicity: monthly)\\Phase: 1)};
\node[el] (c64) at (800,1623) {Periodicity: monthly\\Phase: 0};
\node[el] (c65) at (830,1623) {not (Periodicity: monthly)\\Phase: 0)};
\end{tikzpicture}
\end{document}
